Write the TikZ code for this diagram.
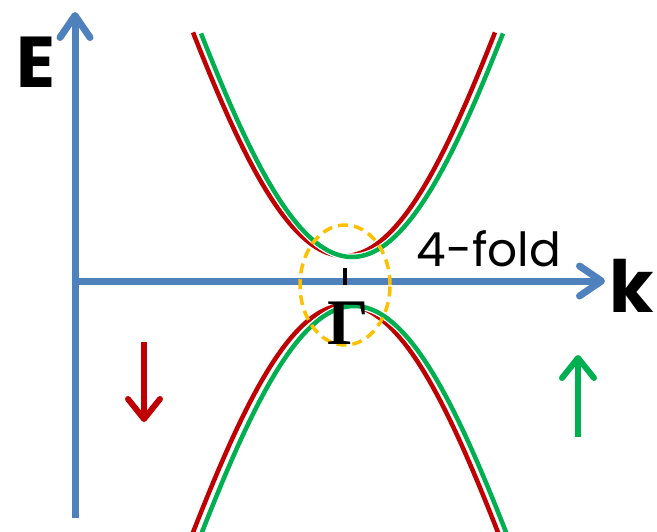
\documentclass[tikz,border=0pt]{standalone}
\usepackage{fontspec}
\newfontfamily\handfont{Poppins}
\newfontfamily\greekfont{Liberation Serif}
\usetikzlibrary{arrows.meta,shapes.geometric}
\definecolor{axisblue}{HTML}{4F81BD}
\definecolor{spinred}{HTML}{C00000}
\definecolor{spingreen}{HTML}{00B050}
\definecolor{ringgold}{HTML}{FFC000}
\begin{document}
\begin{tikzpicture}[x=1pt, y=-1pt,
  declare function={disp(\t)=112.2*(\t/100)^2-6.2*(\t/100)^4;},
  axis/.style={draw=axisblue, line width=7pt,
    -{Straight Barb[length=22pt,width=30pt,line cap=round,line join=round]}},
  band/.style={line width=4.5pt, preaction={draw=white, line width=7pt}},
  spin/.style={line width=6pt,
    -{Straight Barb[length=20pt,width=32pt,line cap=round,line join=round]}},
  label/.style={inner sep=0pt, font=\handfont\fontsize{47}{47}\selectfont},
  biglabel/.style={inner sep=0pt, font=\handfont\bfseries\fontsize{72}{72}\selectfont}]
  \useasboundingbox (0,0) rectangle (657,531);

  % axes
  \coordinate (ebase) at (75,518);
  \coordinate (etip) at (75,12);
  \coordinate (origin) at (75,281);
  \coordinate (ktip) at (605,281);
  \draw[axis] (ebase) -- (etip);
  \draw[axis] (origin) -- (ktip);
  \node[biglabel] (elabel) at (36,62) {E};
  \node[biglabel] (klabel) at (632,286) {k};

  % bands
  \begin{scope}
    \clip (0,0) rectangle (657,531);
    \draw[band, spinred]   plot[domain=-151:151, samples=80] ({344+\x}, {256-disp(\x)});
    \draw[band, spingreen] plot[domain=-151:151, samples=80] ({352+\x}, {257-disp(\x)});
    \draw[band, spinred]   plot[domain=-160:160, samples=80] ({345.5+\x}, {305+disp(\x)});
    \draw[band, spingreen] plot[domain=-160:160, samples=80] ({354+\x}, {306+disp(\x)});
  \end{scope}

  % Gamma point
  \node[draw=ringgold, line width=3.5pt, dash pattern=on 10pt off 6pt,
        ellipse, inner sep=0pt, minimum width=90pt, minimum height=120pt] (ring) at (345,285) {};
  \coordinate (ticktop) at (345,268);
  \coordinate (tickbot) at (345,285);
  \draw[line width=3.5pt] (ticktop) -- (tickbot);
  \node[inner sep=0pt, font=\greekfont\bfseries\fontsize{65}{65}\selectfont] (gamma) at (348,323) {Γ};
  \node[label] (fold) at (489,249) {4-fold};

  % spins
  \coordinate (downtop) at (144,342);
  \coordinate (downtip) at (144,422);
  \coordinate (upbot) at (578,437);
  \coordinate (uptip) at (578,355);
  \draw[spin, spinred] (downtop) -- (downtip);
  \draw[spin, spingreen] (upbot) -- (uptip);
\end{tikzpicture}
\end{document}
